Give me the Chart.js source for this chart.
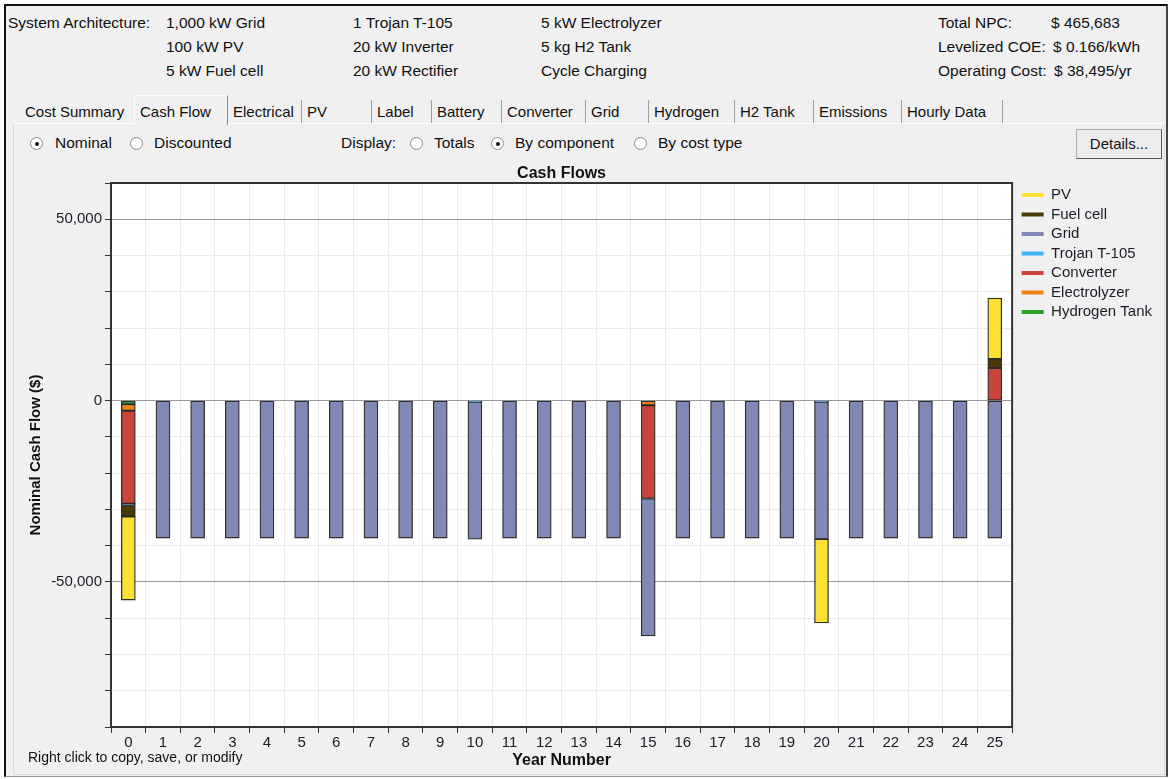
<!DOCTYPE html>
<html><head><meta charset="utf-8">
<script src="https://cdn.jsdelivr.net/npm/chart.js@4.4.0/dist/chart.umd.min.js"></script>
<style>
body{margin:0;background:#fff;width:1169px;height:779px;overflow:hidden;font-family:"Liberation Sans",Arial,sans-serif;color:#111;position:relative}
.frame{position:absolute;left:4px;top:4px;width:1160px;height:770px;background:#f0f0f0;border-left:2px solid #111;border-top:2px solid #111;border-right:2px solid #444;border-bottom:1px solid #999}
.t{position:absolute;white-space:nowrap;font-size:15.5px;line-height:18px;color:#111}
.panel{position:absolute;left:13px;top:123px;width:1150px;height:650px;border:1px solid #d8d8d8;border-top-color:#fff;background:#f0f0f0}
.tab{position:absolute;top:100px;height:23px;border-right:1px solid #a0a0a0;font-size:15px;line-height:24px;white-space:nowrap;box-sizing:border-box;padding-left:5px}
.tab.sel{top:95px;height:30px;background:#f0f0f0;border-left:1px solid #fff;border-top:1px solid #fff;border-right:1px solid #888;line-height:32px;z-index:2}
.radio{position:absolute;width:11px;height:11px;border-radius:50%;border:1px solid #8a8a8a;background:#fff;top:137px;box-sizing:content-box}
.radio.on::after{content:"";position:absolute;left:3.5px;top:3.5px;width:4px;height:4px;border-radius:50%;background:#111}
.btn{position:absolute;left:1076px;top:129px;width:86px;height:30px;box-sizing:border-box;border:1px solid #adadad;border-right-color:#555;border-bottom-color:#555;background:#ececec;font-size:15px;line-height:28px;text-align:center}
#wrap{position:absolute;left:15px;top:160px;width:1150px;height:612px}
</style></head><body>
<div class="frame"></div>
<div class="t" style="left:8px;top:14px">System Architecture:</div>
<div class="t" style="left:166px;top:14px">1,000 kW Grid</div>
<div class="t" style="left:166px;top:38px">100 kW PV</div>
<div class="t" style="left:166px;top:62px">5 kW Fuel cell</div>
<div class="t" style="left:353px;top:14px">1 Trojan T-105</div>
<div class="t" style="left:353px;top:38px">20 kW Inverter</div>
<div class="t" style="left:353px;top:62px">20 kW Rectifier</div>
<div class="t" style="left:541px;top:14px">5 kW Electrolyzer</div>
<div class="t" style="left:541px;top:38px">5 kg H2 Tank</div>
<div class="t" style="left:541px;top:62px">Cycle Charging</div>
<div class="t" style="left:938px;top:14px">Total NPC:</div>
<div class="t" style="left:1051px;top:14px">$ 465,683</div>
<div class="t" style="left:938px;top:38px">Levelized COE:</div>
<div class="t" style="left:1053px;top:38px">$ 0.166/kWh</div>
<div class="t" style="left:938px;top:62px">Operating Cost:</div>
<div class="t" style="left:1054px;top:62px">$ 38,495/yr</div>
<div class="panel"></div>
<div class="tab" style="left:20px;width:115px">Cost Summary</div>
<div class="tab sel" style="left:134px;width:94px">Cash Flow</div>
<div class="tab" style="left:228px;width:74px">Electrical</div>
<div class="tab" style="left:302px;width:70px">PV</div>
<div class="tab" style="left:372px;width:60px">Label</div>
<div class="tab" style="left:432px;width:70px">Battery</div>
<div class="tab" style="left:502px;width:84px">Converter</div>
<div class="tab" style="left:586px;width:63px">Grid</div>
<div class="tab" style="left:649px;width:86px">Hydrogen</div>
<div class="tab" style="left:735px;width:79px">H2 Tank</div>
<div class="tab" style="left:814px;width:88px">Emissions</div>
<div class="tab" style="left:902px;width:101px">Hourly Data</div>
<div class="radio on" style="left:30px"></div><div class="t" style="left:55px;top:134px">Nominal</div>
<div class="radio" style="left:130px"></div><div class="t" style="left:154px;top:134px">Discounted</div>
<div class="t" style="left:341px;top:134px">Display:</div>
<div class="radio" style="left:410px"></div><div class="t" style="left:434px;top:134px">Totals</div>
<div class="radio on" style="left:491px"></div><div class="t" style="left:515px;top:134px">By component</div>
<div class="radio" style="left:634px"></div><div class="t" style="left:658px;top:134px">By cost type</div>
<div class="btn">Details...</div>
<div id="wrap"><canvas id="c" width="1150" height="612"></canvas></div>
<div class="t" style="left:28px;top:748px;font-size:14px">Right click to copy, save, or modify</div>
<script>
const years = ['0','1','2','3','4','5','6','7','8','9','10','11','12','13','14','15','16','17','18','19','20','21','22','23','24','25'];
const pv           = [-23000,0,0,0,0,0,0,0,0,0,0,0,0,0,0,0,0,0,0,0,-23100,0,0,0,0,16800];
const fuelCell     = [-3300,0,0,0,0,0,0,0,0,0,0,0,0,0,0,0,0,0,0,0,0,0,0,0,0,2500];
const grid         = [0,-37900,-37900,-37900,-37900,-37900,-37900,-37900,-37900,-37900,-37900,-37900,-37900,-37900,-37900,-37900,-37900,-37900,-37900,-37900,-37900,-37900,-37900,-37900,-37900,-37900];
const trojan       = [-300,0,0,0,0,0,0,0,0,0,-300,0,0,0,0,0,0,0,0,0,-300,0,0,0,0,0];
const converter    = [-25600,0,0,0,0,0,0,0,0,0,0,0,0,0,0,-25700,0,0,0,0,0,0,0,0,0,9000];
const electrolyzer = [-1800,0,0,0,0,0,0,0,0,0,0,0,0,0,0,-1300,0,0,0,0,0,0,0,0,0,0];
const h2Tank       = [-1000,0,0,0,0,0,0,0,0,0,0,0,0,0,0,0,0,0,0,0,0,0,0,0,0,0];
const yMin = -90000, yMax = 60000, yStep = 10000, yLabelEvery = 50000;

const mk = (label, data, color) => ({label, data, backgroundColor: color, borderColor: 'rgba(25,25,25,0.9)', borderWidth: 1.3, borderSkipped: false, barThickness: 14});
const frame = {
  id: 'frame',
  afterLayout(ch) { if (ch.legend) { ch.legend.left += 5; ch.legend.right += 5; } },
  beforeDraw(ch) { const a = ch.chartArea, c = ch.ctx; c.save(); c.fillStyle = '#fff'; c.fillRect(a.left, a.top, a.right - a.left, a.bottom - a.top); c.restore(); },
  afterDraw(ch) { const a = ch.chartArea, c = ch.ctx; c.save(); c.strokeStyle = '#333'; c.lineWidth = 2; c.strokeRect(a.left, a.top, a.right - a.left, a.bottom - a.top); c.restore(); }
};
new Chart(document.getElementById('c'), {
  type: 'bar',
  data: { labels: years, datasets: [
    mk('Hydrogen Tank', h2Tank, '#2ca02c'),
    mk('Electrolyzer', electrolyzer, '#f0820f'),
    mk('Converter', converter, '#c9443a'),
    mk('Trojan T-105', trojan, '#3cb4f5'),
    mk('Grid', grid, '#8088b6'),
    mk('Fuel cell', fuelCell, '#4a3a08'),
    mk('PV', pv, '#fde034')
  ]},
  options: {
    responsive: false, animation: false,
    layout: { padding: { left: 0, right: 8, top: 0, bottom: 0 } },
    plugins: {
      title: { display: true, text: 'Cash Flows', fullSize: false, color: '#111', font: { family: 'Liberation Sans', size: 16, weight: 'bold' }, padding: { top: 3.8, bottom: 0 } },
      legend: { position: 'right', align: 'start', fullSize: false, reverse: true,
        labels: { boxWidth: 22, boxHeight: 4, padding: 4.5, color: '#1c1c28', font: { family: 'Liberation Sans', size: 15 },
          generateLabels(ch) { return Chart.defaults.plugins.legend.labels.generateLabels(ch).map(l => Object.assign(l, { strokeStyle: l.fillStyle, lineWidth: 0 })); } } },
      tooltip: { enabled: false }
    },
    scales: {
      x: { stacked: true, offset: true,
        grid: { offset: true, color: '#ebebeb', tickColor: '#333', tickLength: 6 },
        border: { color: '#333', width: 2 },
        ticks: { color: '#1c1c28', padding: 1, font: { family: 'Liberation Sans', size: 15 }, maxRotation: 0, autoSkip: false },
        title: { display: true, text: 'Year Number', color: '#111', font: { family: 'Liberation Sans', size: 16, weight: 'bold' }, padding: { top: 0, bottom: 1.6 } },
        afterFit(s) { s.height = 45; } },
      y: { stacked: true, min: yMin, max: yMax,
        grid: { color: c => (c.tick && c.tick.value % yLabelEvery === 0) ? '#9a9a9a' : '#ebebeb', tickColor: '#333', tickLength: 6 },
        border: { color: '#333', width: 2 },
        ticks: { stepSize: yStep, padding: 3, color: '#1c1c28', font: { family: 'Liberation Sans', size: 15 },
          callback: v => (v % yLabelEvery === 0) ? v.toLocaleString('en-US') : '' },
        title: { display: true, text: 'Nominal Cash Flow ($)', color: '#111', font: { family: 'Liberation Sans', size: 15, weight: 'bold' }, padding: { top: 12, bottom: 0 } },
        afterFit(s) { s.width = 96; } }
    }
  },
  plugins: [frame]
});
</script>
</body></html>
